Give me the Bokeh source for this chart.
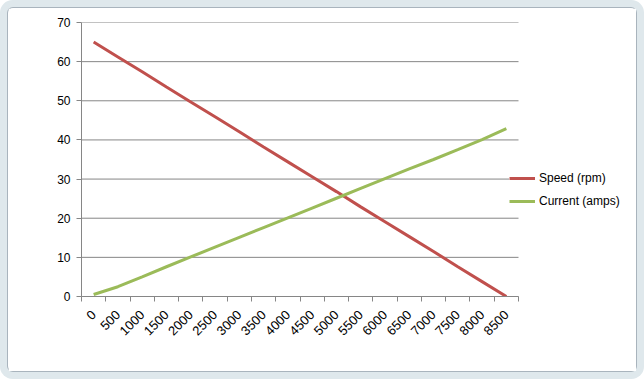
from math import pi
from bokeh.plotting import figure
from bokeh.models import FixedTicker, Legend, LegendItem, Range1d, CustomJSTickFormatter
from bokeh.embed import file_html
from bokeh.resources import INLINE

categories = ["0", "500", "1000", "1500", "2000", "2500", "3000", "3500", "4000",
              "4500", "5000", "5500", "6000", "6500", "7000", "7500", "8000", "8500"]
speed_rpm = [65.0, 61.2, 57.4, 53.5, 49.7, 45.9, 42.1, 38.2, 34.4,
             30.6, 26.8, 22.9, 19.1, 15.3, 11.5, 7.6, 3.8, 0.0]
current_amps = [0.5, 2.5, 5.0, 7.6, 10.1, 12.6, 15.1, 17.6, 20.1,
                22.6, 25.1, 27.6, 30.1, 32.6, 35.0, 37.5, 40.1, 42.9]
y_ticks = [0, 10, 20, 30, 40, 50, 60, 70]

n = len(categories)
xs = [i + 0.5 for i in range(n)]

FONT = "Liberation Sans"

W, H = 628, 363
LEFT, RIGHT, TOP, BOTTOM = 73, 8, 14, 75
PLOT_W = 437  # pixel width of the category area
frame_w = W - LEFT - RIGHT
x_end = n * frame_w / PLOT_W

p = figure(width=W, height=H, output_backend="svg", toolbar_location=None,
           x_range=Range1d(0, x_end), y_range=Range1d(0, 70),
           min_border_left=LEFT, min_border_right=RIGHT, min_border_top=TOP,
           min_border_bottom=BOTTOM)
p.styles = {"margin": "8px", "box-shadow": "0 0 0 1px #a9b4bd, 0 0 0 8px #dfe8ec",
            "border-radius": "5px"}
p.background_fill_color = "white"
p.border_fill_color = "white"
p.outline_line_color = None

# horizontal gridlines limited to the category area
p.segment(x0=[0] * len(y_ticks), x1=[n] * len(y_ticks), y0=y_ticks, y1=y_ticks,
          line_color="#868686", line_width=1)

r1 = p.line(xs, speed_rpm, line_color="#C0504D", line_width=3)
r2 = p.line(xs, current_amps, line_color="#9BBB59", line_width=3)

# x axis: labels at category centres, tick marks at category boundaries
p.xaxis.ticker = FixedTicker(ticks=xs, minor_ticks=list(range(n + 1)))
labels_js = "[" + ",".join('"%s"' % c for c in categories) + "]"
p.xaxis.formatter = CustomJSTickFormatter(code="const L=%s; return L[Math.floor(tick)];" % labels_js)
p.xaxis.bounds = (0, n)
p.xaxis.major_tick_line_color = None
p.xaxis.minor_tick_line_color = "#868686"
p.xaxis.minor_tick_out = 5
p.xaxis.minor_tick_in = 0
p.xaxis.axis_line_color = "#868686"
p.xaxis.major_label_orientation = pi / 4
p.xaxis.major_label_standoff = 10

p.yaxis.ticker = FixedTicker(ticks=y_ticks)
p.yaxis.major_tick_line_color = "#868686"
p.yaxis.major_tick_out = 5
p.yaxis.major_tick_in = 0
p.yaxis.minor_tick_line_color = None
p.yaxis.axis_line_color = "#868686"
p.yaxis.major_label_standoff = 6

for ax in (p.xaxis[0], p.yaxis[0]):
    ax.major_label_text_font = FONT
    ax.major_label_text_color = "black"
p.xaxis.major_label_text_font_size = "13px"
p.yaxis.major_label_text_font_size = "12px"

p.xgrid.grid_line_color = None
p.ygrid.grid_line_color = None

legend = Legend(items=[LegendItem(label="Speed (rpm)", renderers=[r1]),
                       LegendItem(label="Current (amps)", renderers=[r2])],
                location=(428, 85), orientation="vertical",
                padding=0, margin=0, spacing=3,
                glyph_width=26, glyph_height=20, label_height=20,
                label_standoff=4, border_line_color=None,
                background_fill_color="white", background_fill_alpha=1.0,
                label_text_font=FONT, label_text_font_size="12px",
                label_text_color="black")
p.add_layout(legend, "center")

open("out.html", "w").write(file_html(p, INLINE))
